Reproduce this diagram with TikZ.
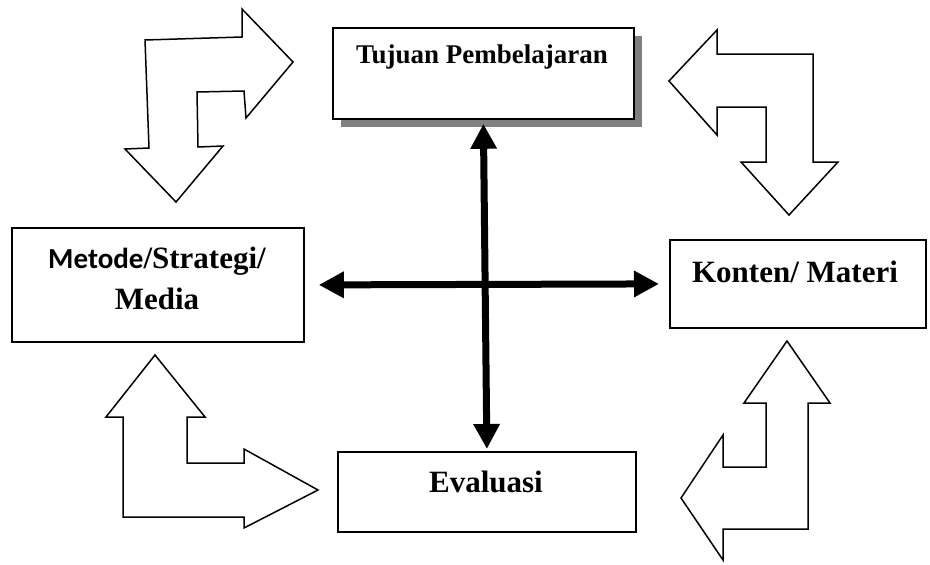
\documentclass[tikz,border=0pt]{standalone}
\usepackage{fontspec}
\setmainfont{Liberation Serif}
\newfontfamily\calibrifont{Carlito}
\usetikzlibrary{arrows.meta, shadows, positioning}

\begin{document}
\begin{tikzpicture}[x=1pt,y=-1pt,
  box/.style={draw,line width=1.8pt,fill=white,inner sep=0,anchor=north west},
  txt/.style={anchor=base,inner sep=0,font=\bfseries\fontsize{31}{36}\selectfont},
  bendarrow/.style={draw,line width=1.5pt,fill=white,line join=miter},
  cross/.style={line width=7pt,{Triangle[length=25pt,width=25pt]}-{Triangle[length=25pt,width=25pt]}}]
  \useasboundingbox (0,0) rectangle (930,565);
  % boxes
  \node [box,minimum width=301,minimum height=91,
    drop shadow={shadow xshift=8pt,shadow yshift=-8pt,fill=black!50,opacity=1}] (tujuan) at (332,27) {};
  \node [box,minimum width=292,minimum height=114] (metode) at (11,227) {};
  \node [box,minimum width=256,minimum height=88] (konten) at (669,239) {};
  \node [box,minimum width=298,minimum height=80] (evaluasi) at (337,451) {};
  % labels
  \node [txt,font=\bfseries\fontsize{27}{32}\selectfont] (tujuanT) at (482,63) {Tujuan Pembelajaran};
  \node [txt] (metodeT) at (157,268) {{\calibrifont\fontsize{29}{34}\selectfont Metode}/Strategi/};
  \node [txt] (mediaT) at (157,309) {Media};
  \node [txt] (kontenT) at (795,282) {Konten/ Materi};
  \node [txt] (evaluasiT) at (486,492) {Evaluasi};
  % cross
  \draw [cross] ([yshift=-4pt]tujuan.south) -- ([yshift=2pt]evaluasi.north);
  \draw [cross] ([xshift=14pt]metode.east) -- ([xshift=-10pt]konten.west);
  % bent arrows
  \draw [bendarrow] (145,40) -- (242,37) -- (242,9) -- (293,62) -- (246,118) -- (244,91) -- (197,92)
    -- (198,147) -- (223,146) -- (176,202) -- (125,149) -- (149,148) -- cycle;
  \draw [bendarrow] (717,30) -- (717,54) -- (813,54) -- (813,162) -- (838,162) -- (789,215) -- (741,162)
    -- (766,162) -- (766,107) -- (717,107) -- (717,135) -- (669,81) -- cycle;
  \draw [bendarrow] (155,355) -- (205,417) -- (187,417) -- (187,463) -- (244,463) -- (244,449) -- (318,490)
    -- (244,528) -- (244,517) -- (123,517) -- (123,417) -- (106,417) -- cycle;
  \draw [bendarrow] (787,341) -- (830,403) -- (808,403) -- (808,529) -- (723,529) -- (723,560) -- (681,498)
    -- (723,435) -- (723,467) -- (766,467) -- (766,403) -- (744,403) -- cycle;
\end{tikzpicture}
\end{document}
